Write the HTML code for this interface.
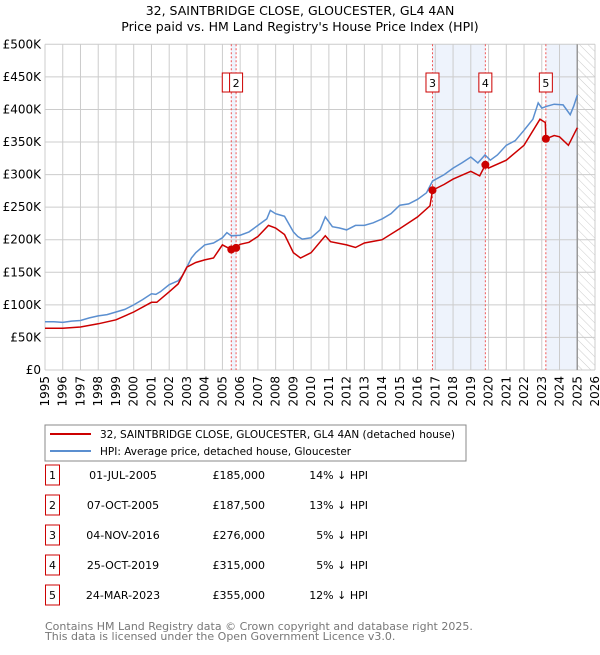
<!DOCTYPE html>
<html><head><meta charset="utf-8"><style>
body{margin:0;background:#fff;font-family:"Liberation Sans","DejaVu Sans",sans-serif;}
svg text{font-family:"DejaVu Sans","Liberation Sans",sans-serif;}
</style></head><body>
<svg id="c" width="600" height="650" xmlns="http://www.w3.org/2000/svg">
<defs><pattern id="hatch" width="6" height="6" patternUnits="userSpaceOnUse" patternTransform="rotate(-45)"><line x1="0" y1="0" x2="0" y2="6" stroke="#ccc" stroke-width="1"/></pattern></defs>
<text x="300" y="15" text-anchor="middle" font-size="12.5">32, SAINTBRIDGE CLOSE, GLOUCESTER, GL4 4AN</text>
<text x="300" y="31" text-anchor="middle" font-size="12.5">Price paid vs. HM Land Registry's House Price Index (HPI)</text>
<g id="plot"></g>
<rect x="45" y="425" width="421" height="36" fill="#fff" stroke="#888"/>
<line x1="50" y1="434" x2="91" y2="434" stroke="#cc0000" stroke-width="2"/>
<text x="100" y="438" font-size="10.5">32, SAINTBRIDGE CLOSE, GLOUCESTER, GL4 4AN (detached house)</text>
<line x1="50" y1="451" x2="91" y2="451" stroke="#5b8fd0" stroke-width="2"/>
<text x="100" y="455" font-size="10.5">HPI: Average price, detached house, Gloucester</text>
<g id="table"></g>
<text x="45" y="630" font-size="11" fill="#777">Contains HM Land Registry data © Crown copyright and database right 2025.</text>
<text x="45" y="640" font-size="11" fill="#777">This data is licensed under the Open Government Licence v3.0.</text>
</svg>
<script>
const hpiYears=[1995,1995.5,1996,1996.5,1997,1997.5,1998,1998.5,1999,1999.5,2000,2000.5,2001,2001.25,2001.5,2002,2002.5,2002.75,2003,2003.25,2003.5,2004,2004.5,2005,2005.25,2005.5,2006,2006.5,2007,2007.5,2007.7,2008,2008.25,2008.5,2009,2009.25,2009.5,2010,2010.5,2010.8,2011.2,2011.6,2012,2012.5,2013,2013.5,2014,2014.5,2015,2015.5,2016,2016.5,2016.84,2017.5,2018,2018.5,2019,2019.4,2019.8,2020.1,2020.5,2021,2021.5,2022,2022.5,2022.8,2023.0,2023.3,2023.7,2024.2,2024.6,2024.8,2025.0];
const hpiValues=[74,74,73,75,76,80,83,85,89,93,100,108,117,116,120,131,137,145,158,172,180,192,195,203,211,206,207,212,222,232,245,240,238,236,212,205,201,203,215,235,220,218,215,222,222,226,232,240,253,255,262,272,290,300,310,318,327,318,330,322,330,345,352,368,385,410,402,405,408,407,392,405,422];
const propYears=[1995,1996,1997,1998,1999,2000,2001,2001.3,2002,2002.5,2003,2003.5,2004,2004.5,2005,2005.5,2006,2006.5,2007,2007.6,2008,2008.5,2009,2009.4,2010,2010.8,2011.1,2012,2012.5,2013,2014,2015,2016,2016.7,2016.84,2017.5,2018,2019,2019.5,2019.82,2020,2021,2022,2022.9,2023.2,2023.23,2023.7,2024,2024.5,2025];
const propValues=[64,64,66,71,77,89,104,104,120,132,158,165,169,172,192,185,193,196,205,222,218,208,180,172,180,206,197,192,188,195,200,217,235,252,276,285,293,305,298,315,310,322,345,385,380,355,360,358,345,372];
const saleYears=[2005.5,2005.77,2016.84,2019.82,2023.23];
const saleValues=[185,187.5,276,315,355];
const saleLabels=["1","2","3","4","5"];
const saleDates=["01-JUL-2005","07-OCT-2005","04-NOV-2016","25-OCT-2019","24-MAR-2023"];
const salePrices=["£185,000","£187,500","£276,000","£315,000","£355,000"];
const saleDiffs=["14% ↓ HPI","13% ↓ HPI","5% ↓ HPI","5% ↓ HPI","12% ↓ HPI"];
const yTicks=[0,50,100,150,200,250,300,350,400,450,500];
const yTickLabels=["£0","£50K","£100K","£150K","£200K","£250K","£300K","£350K","£400K","£450K","£500K"];
const xTicks=[];for(let y=1995;y<=2026;y++)xTicks.push(y);

const X0=45,X1=595,Y0=370,Y1=44.3;
const xs=v=>X0+(v-1995)/(2026-1995)*(X1-X0);
const ys=v=>Y0-v/500*(Y0-Y1);
const NS="http://www.w3.org/2000/svg";
const plot=document.getElementById('plot');
function mk(tag,attrs,parent){const e=document.createElementNS(NS,tag);for(const k in attrs)e.setAttribute(k,attrs[k]);(parent||plot).appendChild(e);return e;}
// shading
[[saleYears[0],saleYears[1]],[saleYears[2],saleYears[3]],[saleYears[4],2025.0]].forEach(r=>{
 const e=mk('rect',{x:xs(r[0]),y:Y1,width:xs(r[1])-xs(r[0]),height:Y0-Y1,fill:'#eef3fc'});
 
 
});
const h=mk('rect',{x:xs(2025),y:Y1,width:X1-xs(2025),height:Y0-Y1,fill:'url(#hatch)'});


// grid
yTicks.forEach((t,i)=>{
 const l=mk('line',{x1:X0,x2:X1,y1:ys(t),y2:ys(t),stroke:'#ccc'});
 
 
 const tx=mk('text',{x:X0-4,y:ys(t)+4,'text-anchor':'end','font-size':'12'});tx.textContent=yTickLabels[i];
 
 
});
xTicks.forEach(t=>{
 const l=mk('line',{x1:xs(t),x2:xs(t),y1:Y1,y2:Y0,stroke:'#ccc'});
 
 
 const tx=mk('text',{x:0,y:0,'text-anchor':'end','font-size':'12',transform:`translate(${xs(t)+4},${Y0+6}) rotate(-90)`});tx.textContent=t;
 
 
});
const ed=mk('line',{x1:xs(2025),x2:xs(2025),y1:Y1,y2:Y0,stroke:'#999','stroke-width':1.5});


// sale vlines
saleYears.forEach(y=>{
 const l=mk('line',{x1:xs(y),x2:xs(y),y1:Y1,y2:Y0,stroke:'#e55','stroke-dasharray':'2,2','stroke-width':1});
 
 
});
function pts(a,b){return a.map((y,i)=>xs(y).toFixed(1)+','+ys(b[i]).toFixed(1)).join(' ');}
const hp=mk('polyline',{points:pts(hpiYears,hpiValues),fill:'none',stroke:'#5b8fd0','stroke-width':1.5});


const pp=mk('polyline',{points:pts(propYears,propValues),fill:'none',stroke:'#cc0000','stroke-width':1.5});


saleYears.forEach((y,i)=>{
 const c=mk('circle',{cx:xs(y),cy:ys(saleValues[i]),r:4,fill:'#cc0000'});
 
 
});
// labels boxes
const labelOffsets=[-2,0,0,0,0];
saleYears.forEach((y,i)=>{
 if(i===0){const r=mk('rect',{x:xs(y)-9,y:73,width:9,height:19,fill:'#fff',stroke:'#cc0000'});return;}
 const bx=xs(y)-6.5;
 const r=mk('rect',{x:bx,y:73,width:13,height:19,fill:'#fff',stroke:'#cc0000'});
 
 
 const t=mk('text',{x:bx+6.5,y:87,'text-anchor':'middle','font-size':'11'});t.textContent=saleLabels[i];
 
 
});
// table
const tb=document.getElementById('table');
saleLabels.forEach((lab,i)=>{
 const yy=475+i*30;
 const r=mk('rect',{x:45.5,y:yy-10,width:14,height:20,fill:'#fff',stroke:'#cc0000'},tb);
 
 
 const t1=mk('text',{x:52.5,y:yy+4,'text-anchor':'middle','font-size':'11'},tb);t1.textContent=lab;
 
 
 const t2=mk('text',{x:123,y:yy+4,'text-anchor':'middle','font-size':'11'},tb);t2.textContent=saleDates[i];
 
 
 const t3=mk('text',{x:265,y:yy+4,'text-anchor':'end','font-size':'11'},tb);t3.textContent=salePrices[i];
 
 
 const t4=mk('text',{x:368,y:yy+4,'text-anchor':'end','font-size':'11'},tb);t4.textContent=saleDiffs[i];
 
 
});
</script>
</body></html>
